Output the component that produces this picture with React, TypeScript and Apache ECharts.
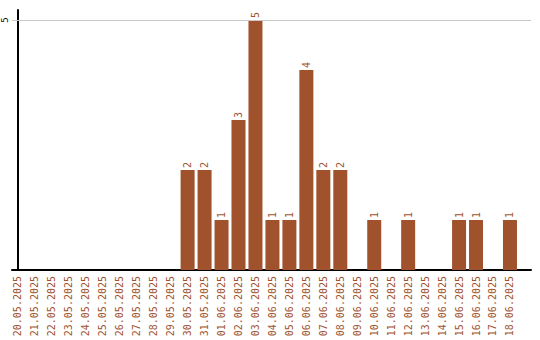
import React, { useEffect, useRef } from "react";
import * as echarts from "echarts";

const categories = [
  "20.05.2025", "21.05.2025", "22.05.2025", "23.05.2025", "24.05.2025",
  "25.05.2025", "26.05.2025", "27.05.2025", "28.05.2025", "29.05.2025",
  "30.05.2025", "31.05.2025", "01.06.2025", "02.06.2025", "03.06.2025",
  "04.06.2025", "05.06.2025", "06.06.2025", "07.06.2025", "08.06.2025",
  "09.06.2025", "10.06.2025", "11.06.2025", "12.06.2025", "13.06.2025",
  "14.06.2025", "15.06.2025", "16.06.2025", "17.06.2025", "18.06.2025",
];
const values = [
  0, 0, 0, 0, 0, 0, 0, 0, 0, 0,
  2, 2, 1, 3, 5, 1, 1, 4, 2, 2,
  0, 1, 0, 1, 0, 0, 1, 1, 0, 1,
];
const yTickLabels = [5];

const BROWN = "#a0522d";
const FONT = "DejaVu Sans Mono";

export default function App() {
  const ref = useRef<HTMLDivElement>(null);
  useEffect(() => {
    if (!ref.current) return;
    const chart = echarts.init(ref.current, null, { renderer: "svg" });
    const idx = categories.map((_, i) => i);
    chart.setOption({
      animation: false,
      grid: { left: 11, right: 9, top: 10, bottom: 70, containLabel: false },
      xAxis: {
        type: "value",
        min: -0.35,
        max: 30.24,
        axisLine: { show: true, onZero: false, lineStyle: { color: "#000", width: 2 } },
        axisTick: { show: false },
        splitLine: { show: false },
        axisLabel: {
          customValues: idx,
          rotate: 90,
          color: BROWN,
          fontFamily: FONT,
          fontSize: 10,
          margin: 6,
          formatter: (v: number) => categories[Math.round(v)] ?? "",
        },
      },
      yAxis: {
        type: "value",
        min: 0,
        max: 5.2,
        axisLine: { show: true, lineStyle: { color: "#000", width: 2 } },
        axisTick: { show: false },
        splitLine: { show: false },
        axisLabel: {
          customValues: yTickLabels,
          rotate: 90,
          color: "#000",
          fontFamily: FONT,
          fontSize: 9,
          margin: 3,
        },
      },
      series: [
        {
          type: "bar",
          data: categories.map((_, i) => [i, values[i]]),
          barWidth: 14,
          itemStyle: { color: BROWN },
          label: {
            show: true,
            position: "top",
            rotate: 90,
            align: "left",
            verticalAlign: "middle",
            distance: 2,
            color: BROWN,
            fontFamily: FONT,
            fontSize: 10,
            formatter: (p: any) => (p.value[1] ? String(p.value[1]) : ""),
          },
          markLine: {
            silent: true,
            symbol: "none",
            label: { show: false },
            lineStyle: { color: "#c8c8c8", type: "solid", width: 1 },
            data: yTickLabels.map((v) => ({ yAxis: v })),
          },
        },
      ],
    });
    return () => chart.dispose();
  }, []);
  return (
    <div
      ref={ref}
      style={{ position: "fixed", left: 0, top: 0, width: 540, height: 340, background: "#fff" }}
    />
  );
}
